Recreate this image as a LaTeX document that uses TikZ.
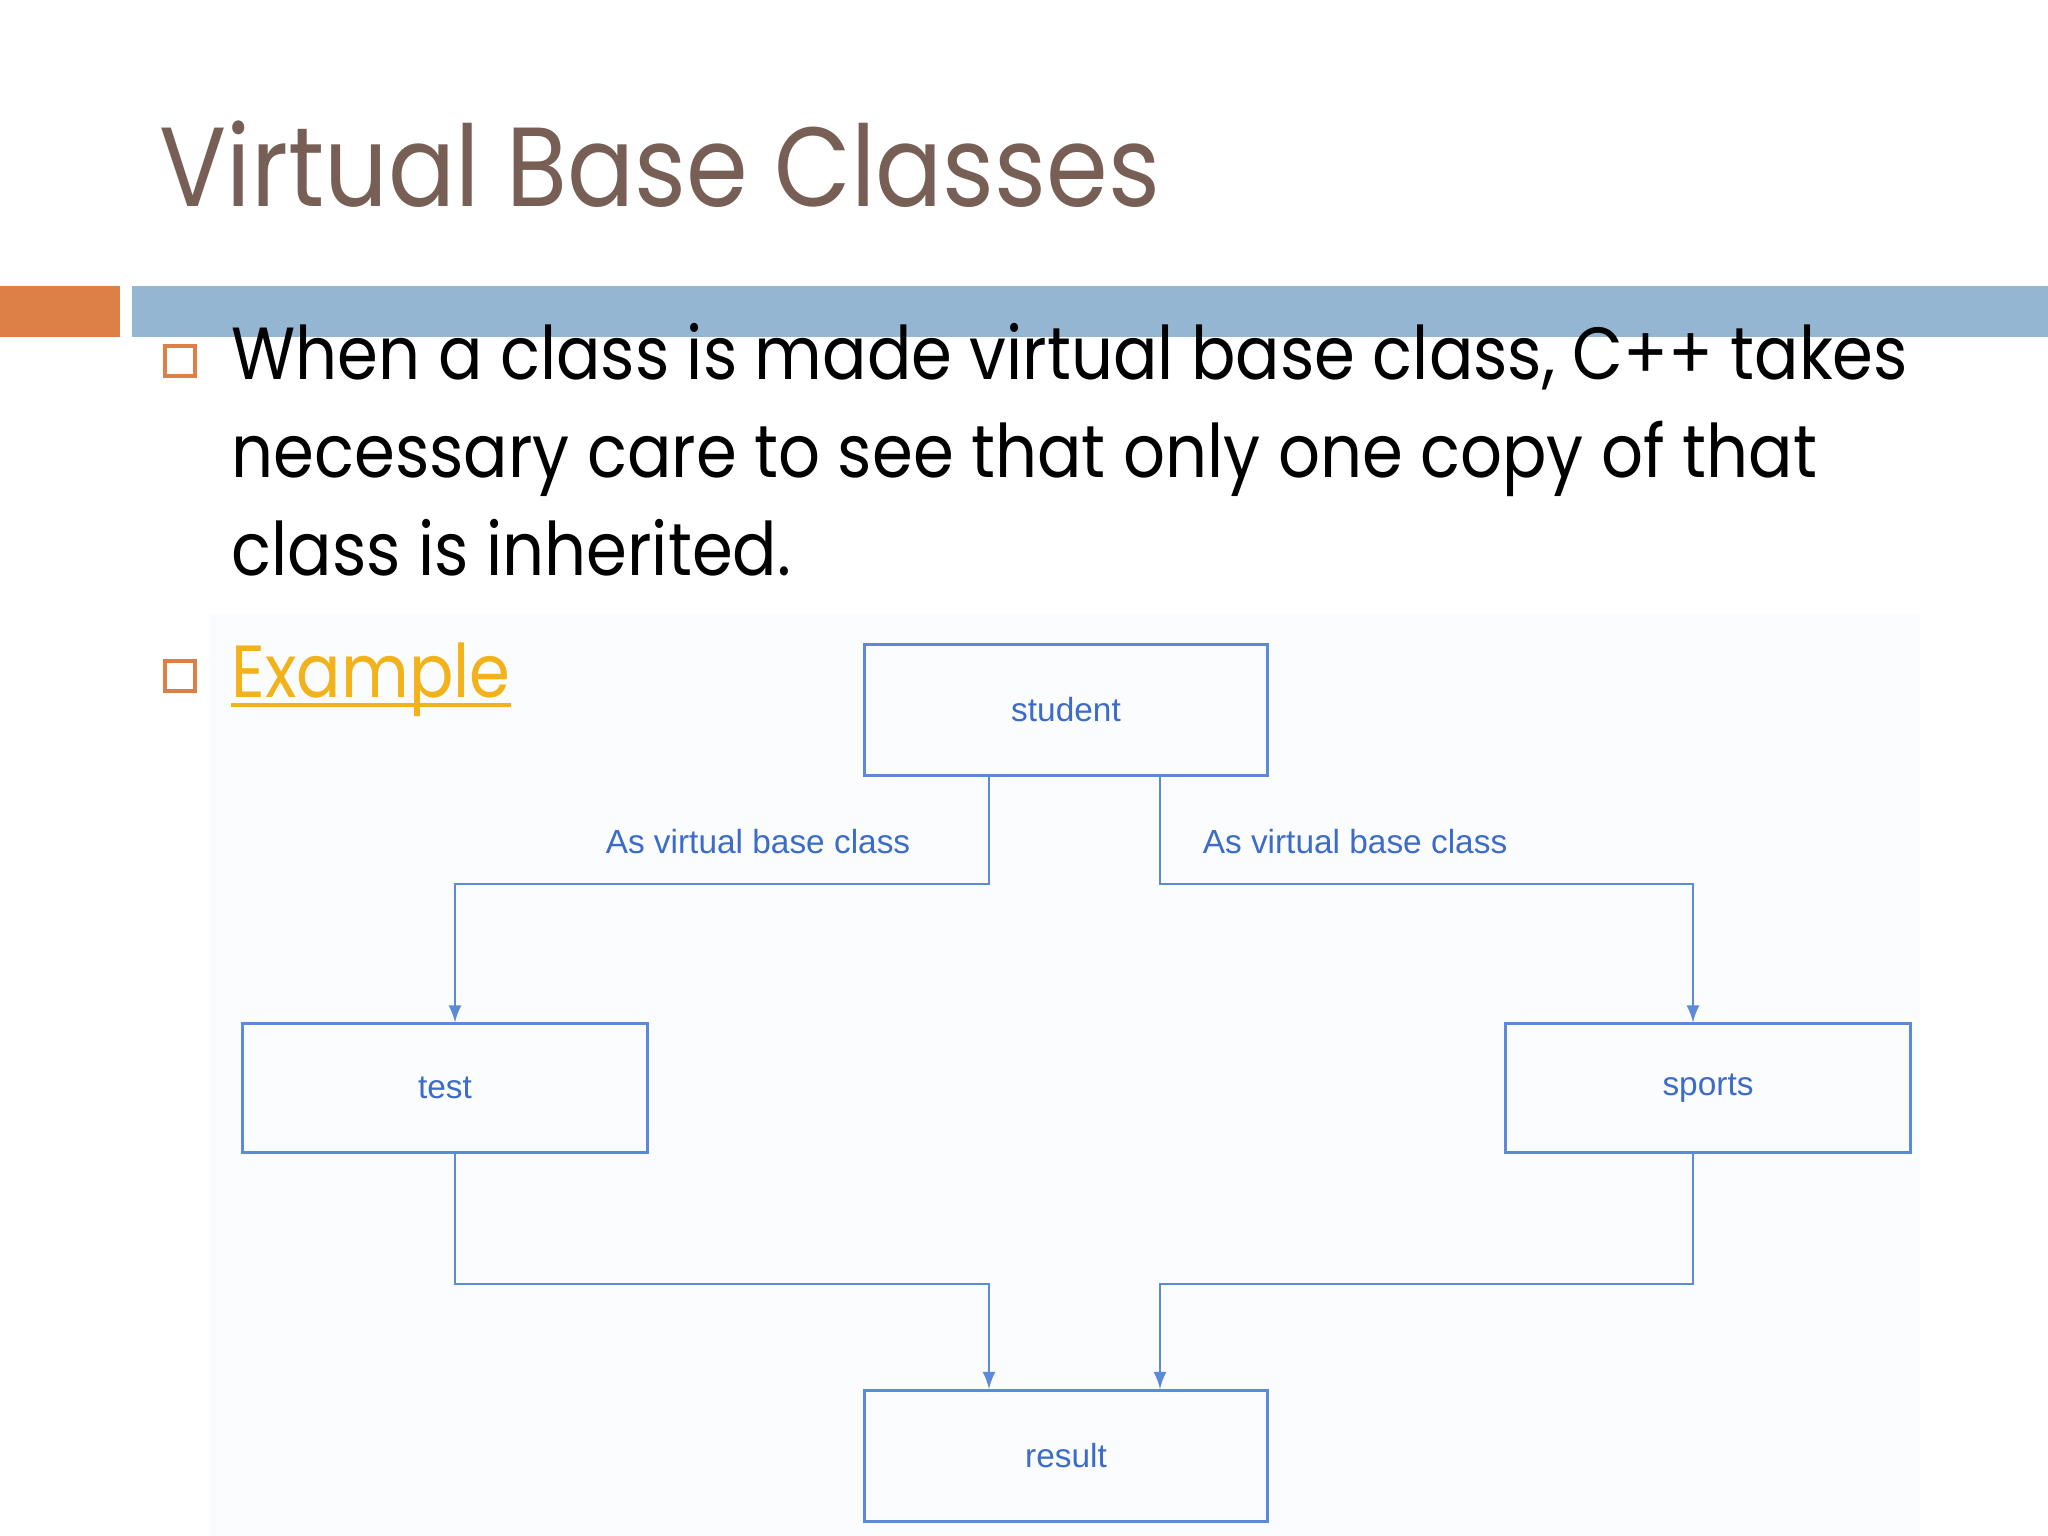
\documentclass[tikz,border=0pt]{standalone}
\usepackage{fontspec}
\setmainfont{Poppins}[FakeStretch=0.89]
\newfontfamily\titlefont{Poppins}[FakeStretch=0.883]
\setsansfont{Liberation Sans}
\usepackage{tikz}
\usetikzlibrary{arrows, positioning}
\definecolor{MedOrange}{HTML}{DD8047}
\definecolor{MedBlue}{HTML}{94B6D2}
\definecolor{MedBrown}{HTML}{775F55}
\definecolor{MedLink}{HTML}{F2B21B}
\definecolor{DiagBlue}{HTML}{5A8AD8}
\definecolor{DiagText}{HTML}{3C6CC8}
\definecolor{DiagBack}{HTML}{FBFCFE}

\begin{document}
\begin{tikzpicture}[
			x=0.01cm, y=-0.01cm,
			box/.style={rectangle, draw=DiagBlue, line width=0.85pt, text=DiagText, font=\sffamily\fontsize{9.5}{11}\selectfont},
			lbl/.style={text=DiagText, font=\sffamily\fontsize{9.5}{11}\selectfont},
			link/.style={draw=DiagBlue, line width=0.7pt, ->, >=latex},
			bullet/.style={rectangle, draw=MedOrange, line width=0.9pt, minimum size=0.3cm, inner sep=0pt},
			body/.style={anchor=base west, inner sep=0pt, font=\fontsize{21}{25}\selectfont},
			]
			\useasboundingbox (0,0) rectangle (2048,1536);
			\fill[white] (0,0) rectangle (2048,1536);
			\fill[DiagBack] (209,614) rectangle (1920,1536); % picture area
			% title and bars
			\node (title) [anchor=base west, inner sep=0pt, text=MedBrown, font=\titlefont\fontsize{32}{38}\selectfont] at (159,206) {Virtual Base Classes};
			\fill[MedOrange] (0,286) rectangle (120,337);
			\fill[MedBlue] (132,286) rectangle (2048,337);
			% bullets
			\node (b1) [bullet] at (180,361) {};
			\node (line1) [body] at (231,379) {When a class is made virtual base class, C++ takes};
			\node (line2) [body] at (231,477) {necessary care to see that only one copy of that};
			\node (line3) [body] at (231,575) {class is inherited.};
			\node (b2) [bullet] at (180,676) {};
			\node (example) [body, text=MedLink] at (231,697) {Example};
			\draw[MedLink, line width=1.1pt] ([yshift=-2.3pt]example.base west) -- ([yshift=-2.3pt]example.base east);
			% diagram
			\node (student) [box, minimum width=4.03cm, minimum height=1.3cm] at (1066,710) {student};
			\node (test) [box, minimum width=4.04cm, minimum height=1.28cm] at (445,1088) {test};
			\node (sports) [box, minimum width=4.04cm, minimum height=1.28cm] at (1708,1088) {sports};
			\node (result) [box, minimum width=4.03cm, minimum height=1.31cm] at (1066,1456) {result};
			\node (lblL) [lbl] at (758,842) {As virtual base class};
			\node (lblR) [lbl] at (1355,842) {As virtual base class};

			\draw[link] (student.south -| 989,0) |- (455,884) -- (test.north -| 455,0);
			\draw[link] (student.south -| 1160,0) |- (1693,884) -- (sports.north -| 1693,0);
			\draw[link] (test.south -| 455,0) |- (989,1284) -- (result.north -| 989,0);
			\draw[link] (sports.south -| 1693,0) |- (1160,1284) -- (result.north -| 1160,0);
		\end{tikzpicture}
\end{document}
